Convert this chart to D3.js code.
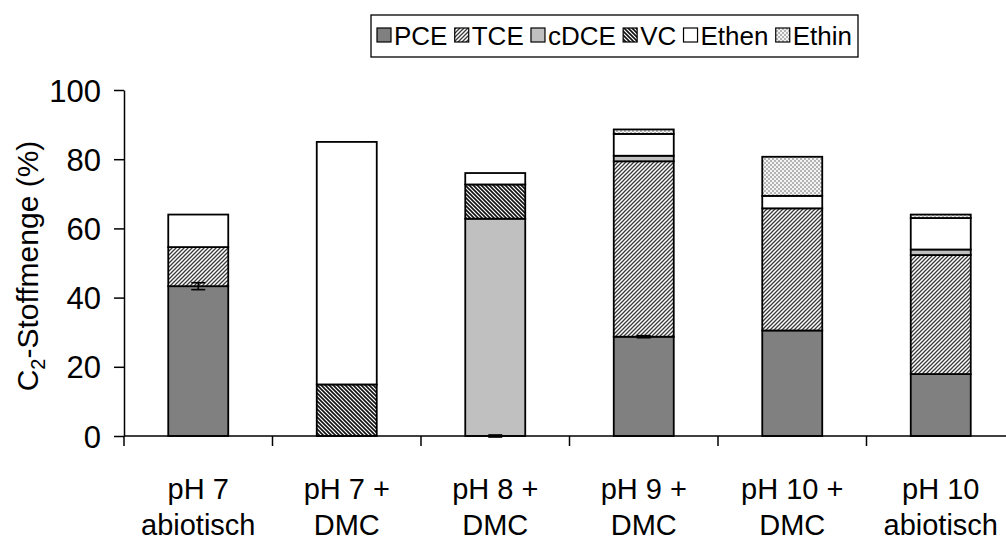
<!DOCTYPE html>
<html>
<head>
<meta charset="utf-8">
<script src="https://cdn.jsdelivr.net/npm/d3@7"></script>
<style>
  html, body { margin: 0; padding: 0; background: #fff; }
  svg { display: block; }
  text { font-family: "Liberation Sans", Arial, sans-serif; fill: #000; }
</style>
</head>
<body>
<svg id="chart" width="1006" height="542"></svg>
<script>
// Batch conditions (two label lines each)
const categories = [
  ["pH 7", "abiotisch"],
  ["pH 7 +", "DMC"],
  ["pH 8 +", "DMC"],
  ["pH 9 +", "DMC"],
  ["pH 10 +", "DMC"],
  ["pH 10", "abiotisch"]
];
const seriesNames = ["PCE", "TCE", "cDCE", "VC", "Ethen", "Ethin"];

// C2 amounts per compound (% of initial), stacked bottom to top
const PCE   = [43.3, 0,    0,    28.7, 30.5, 17.9];
const TCE   = [11.3, 0,    0,    50.7, 35.3, 34.4];
const cDCE  = [0,    0,    62.8, 1.6,  0,    1.6];
const VC    = [0,    14.9, 9.9,  0,    0,    0];
const Ethen = [9.4,  70.1, 3.3,  6.3,  3.6,  9.1];
const Ethin = [0,    0,    0,    1.3,  11.3, 1.0];
// standard deviation of PCE
const PCEerr = [1.0, 0, 0.3, 0.3, 0, 0];

const yTicks = [0, 20, 40, 60, 80, 100];
const yLabel = "Stoffmenge (%)";

const seriesValues = [PCE, TCE, cDCE, VC, Ethen, Ethin];

const svg = d3.select("#chart");
const defs = svg.append("defs");

// fills: solid greys and hatch patterns
function hatch(id, d, color, w) {
  const p = defs.append("pattern").attr("id", id)
    .attr("patternUnits", "userSpaceOnUse").attr("width", 4).attr("height", 4);
  p.append("rect").attr("width", 4).attr("height", 4).attr("fill", "#fff");
  p.append("path").attr("d", d).attr("stroke", color).attr("stroke-width", w);
}
hatch("pTCE", "M-1,1 l2,-2 M0,4 l4,-4 M3,5 l2,-2", "#3a3a3a", 1.3);
hatch("pVC", "M-1,3 l2,2 M0,0 l4,4 M3,-1 l2,2", "#111", 1.6);
{
  const p = defs.append("pattern").attr("id", "pEthin")
    .attr("patternUnits", "userSpaceOnUse").attr("width", 4).attr("height", 4);
  p.append("rect").attr("width", 4).attr("height", 4).attr("fill", "#b4b4b4");
  p.append("rect").attr("width", 2).attr("height", 2).attr("fill", "#f4f4f4");
  p.append("rect").attr("x", 2).attr("y", 2).attr("width", 2).attr("height", 2).attr("fill", "#f4f4f4");
}
const fills = {
  PCE: "#808080",
  TCE: "url(#pTCE)",
  cDCE: "#c0c0c0",
  VC: "url(#pVC)",
  Ethen: "#ffffff",
  Ethin: "url(#pEthin)"
};

const x = d3.scaleBand().domain(d3.range(categories.length)).range([124, 1015]).padding(0);
const y = d3.scaleLinear().domain([0, 100]).range([436, 90]);
const barW = x.bandwidth() * 0.404;

// stacked data
const rows = categories.map((c, i) => {
  const r = { i };
  seriesNames.forEach((s, k) => r[s] = seriesValues[k][i]);
  return r;
});
const stack = d3.stack().keys(seriesNames)(rows);

const g = svg.append("g");
stack.forEach(layer => {
  g.append("g").selectAll("rect")
    .data(layer.filter(d => d[1] - d[0] > 0))
    .join("rect")
    .attr("x", d => x(d.data.i) + (x.bandwidth() - barW) / 2)
    .attr("width", barW)
    .attr("y", d => y(d[1]))
    .attr("height", d => y(d[0]) - y(d[1]))
    .attr("fill", fills[layer.key])
    .attr("stroke", "#000")
    .attr("stroke-width", 1.8);
});

// PCE error bars
const eb = g.append("g").attr("stroke", "#000").attr("stroke-width", 1.6);
PCEerr.forEach((e, i) => {
  if (!(e > 0)) return;
  const cx = x(i) + x.bandwidth() / 2;
  const v = PCE[i];
  eb.append("line").attr("x1", cx).attr("x2", cx).attr("y1", y(v + e)).attr("y2", y(v - e));
  eb.append("line").attr("x1", cx - 7).attr("x2", cx + 7).attr("y1", y(v + e)).attr("y2", y(v + e));
  eb.append("line").attr("x1", cx - 7).attr("x2", cx + 7).attr("y1", y(v - e)).attr("y2", y(v - e));
});

// y axis
const yAxis = d3.axisLeft(y).tickValues(yTicks).tickSize(10).tickPadding(13).tickSizeOuter(0);
const ya = svg.append("g").attr("transform", "translate(124,0)").call(yAxis);
ya.select(".domain").attr("stroke", "#000").attr("stroke-width", 1.5);
ya.selectAll(".tick line").attr("stroke", "#000").attr("stroke-width", 1.5);
ya.selectAll(".tick text").attr("font-size", 31).attr("font-family", "Liberation Sans, Arial, sans-serif").attr("dy", "0.36em");

// x axis: line with ticks at category boundaries
const xa = svg.append("g");
xa.append("line").attr("x1", 124).attr("x2", 1006).attr("y1", 436).attr("y2", 436)
  .attr("stroke", "#000").attr("stroke-width", 1.5);
d3.range(categories.length).forEach(i => {
  const bx = x(i);
  xa.append("line").attr("x1", bx).attr("x2", bx).attr("y1", 436).attr("y2", 446)
    .attr("stroke", "#000").attr("stroke-width", 1.5);
  const t = xa.append("text").attr("text-anchor", "middle").attr("font-size", 29);
  t.append("tspan").attr("x", bx + x.bandwidth() / 2).attr("y", 499).text(categories[i][0]);
  t.append("tspan").attr("x", bx + x.bandwidth() / 2).attr("y", 535).text(categories[i][1]);
});

// y axis title
const yt = svg.append("text").attr("transform", "translate(38,266) rotate(-90)")
  .attr("text-anchor", "middle").attr("font-size", 30);
yt.append("tspan").text("C");
yt.append("tspan").attr("font-size", 20).attr("dy", 7).text("2");
yt.append("tspan").attr("dy", -7).text("-" + yLabel);

// legend: fixed box, items spread evenly inside
const legX0 = 371, legX1 = 858, legCy = 36, sq = 14, sqGap = 3, pad = 6;
const lg = svg.append("g");
lg.append("rect").attr("x", legX0).attr("y", legCy - 21).attr("width", legX1 - legX0).attr("height", 42)
  .attr("fill", "#fff").attr("stroke", "#000").attr("stroke-width", 1.3);
const texts = seriesNames.map(s => lg.append("text").attr("font-size", 26).attr("y", legCy + 9).text(s));
const widths = texts.map(t => t.node().getComputedTextLength());
const gap = (legX1 - legX0 - 2 * pad - d3.sum(widths) - seriesNames.length * (sq + sqGap)) / (seriesNames.length - 1);
let cx = legX0 + pad;
seriesNames.forEach((s, k) => {
  lg.append("rect").attr("x", cx).attr("y", legCy - 8).attr("width", sq).attr("height", sq)
    .attr("fill", fills[s]).attr("stroke", "#000").attr("stroke-width", 1.2);
  texts[k].attr("x", cx + sq + sqGap);
  cx += sq + sqGap + widths[k] + gap;
});
</script>
</body>
</html>
